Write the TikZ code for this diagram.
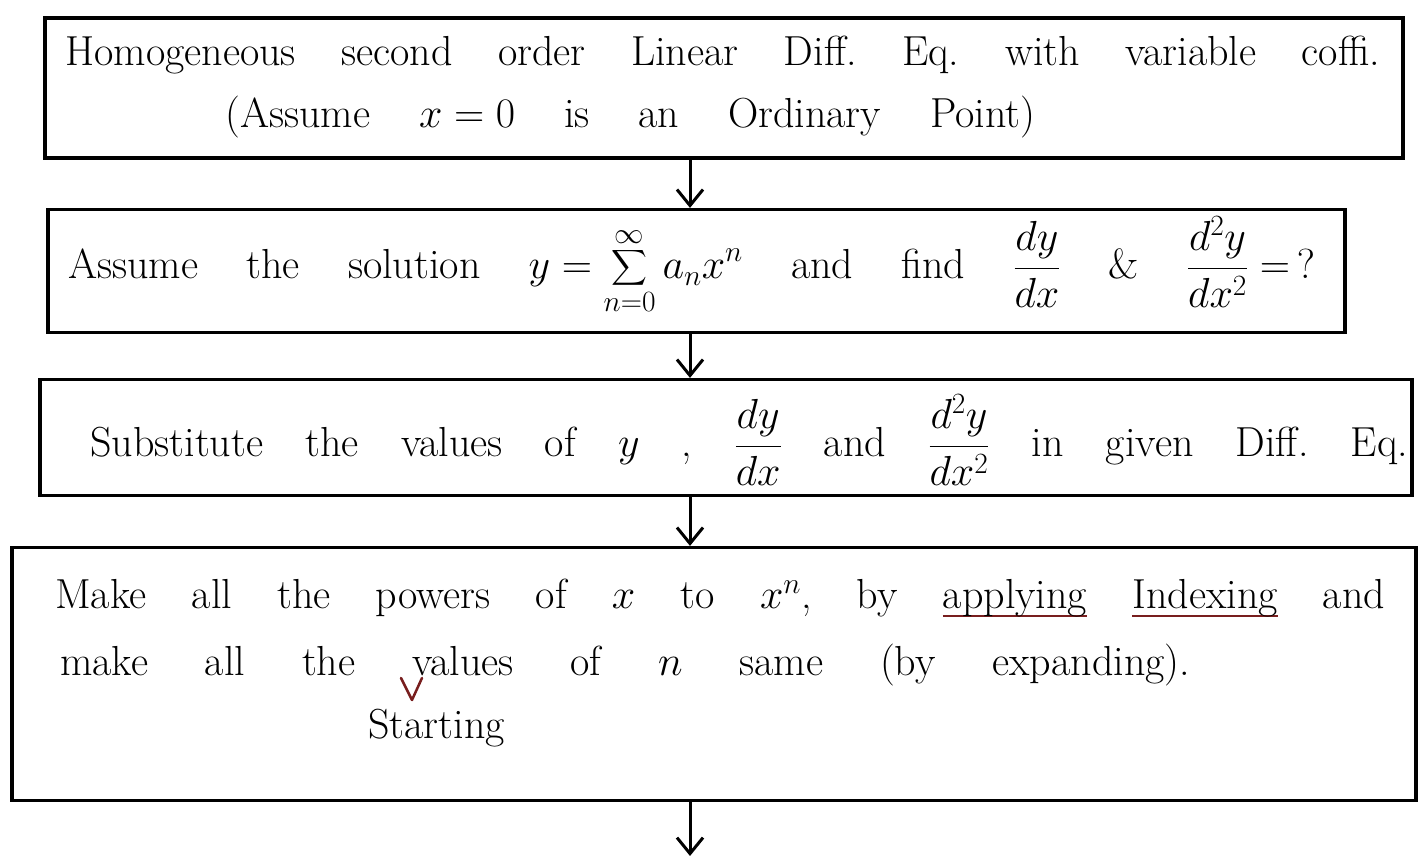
\RequirePackage{fix-cm}
\documentclass[tikz,border=0pt]{standalone}
\usepackage{exscale}
\usepackage{amsmath}
\usetikzlibrary{arrows.meta}
\definecolor{ulred}{RGB}{120,30,30}
\newlength\ulw
\newcommand\redline[1]{\settowidth\ulw{#1}\rlap{\color{ulred}\rule[-9pt]{\ulw}{2.2pt}}#1}
\frenchspacing
\begin{document}
\begin{tikzpicture}[x=1pt,y=-1pt,
  box/.style={draw=black,line width=3.2pt,inner sep=0pt,fill=none},
  txt/.style={anchor=west,inner sep=0pt,font=\fontsize{42}{48}\selectfont},
  arr/.style={line width=3pt,-{Straight Barb[length=16pt,width=26pt,line width=3pt]}}]
\fill[white] (0,0) rectangle (1421,856);
\useasboundingbox (0,0) rectangle (1421,856);
% boxes
\node[box,minimum width=1358pt,minimum height=140pt] (b1) at (724,88) {};
\node[box,minimum width=1297pt,minimum height=123pt] (b2) at (696.5,271) {};
\node[box,minimum width=1372pt,minimum height=116pt] (b3) at (726,437.5) {};
\node[box,minimum width=1404pt,minimum height=253pt] (b4) at (714,674) {};
% texts
\node[txt] (t1a) at (65,55) {\makebox[1315pt][s]{Homogeneous second order Linear Diff. Eq. with variable coffi.}};
\node[txt] (t1b) at (225,117) {\makebox[810pt][s]{(Assume ${x=0}$ is an Ordinary Point)}};
\node[txt] (t2) at (68,265) {\makebox[1247pt][s]{Assume the solution ${y=\displaystyle\sum_{n=0}^{\infty}a_n x^n}$ and find ${\dfrac{dy}{dx}}$ \& ${\dfrac{d^2y}{dx^2}=\,?}$}};
\node[txt] (t3) at (90,440) {\makebox[1318pt][s]{Substitute the values of $y$ , ${\dfrac{dy}{dx}}$ and ${\dfrac{d^2y}{dx^2}}$ in given Diff. Eq.}};
\node[txt] (t4a) at (55,598) {\makebox[1330pt][s]{Make all the powers of $x$ to ${x^n}$, by \redline{applying} \redline{Indexing} and}};
\node[txt] (t4b) at (60,665) {\makebox[1130pt][s]{make all the values of $n$ same (by expanding).}};
\node[txt] (t4c) at (368,728) {Starting};
\draw[ulred,line width=2.5pt,line cap=round,line join=round] (401,678) -- (412,700) -- (422,678);
% arrows
\coordinate (ax) at (690,0);
\coordinate (end) at (690,856);
\draw[arr] (b1.south -| ax) -- (b2.north -| ax);
\draw[arr] (b2.south -| ax) -- (b3.north -| ax);
\draw[arr] (b3.south -| ax) -- (b4.north -| ax);
\draw[arr] (b4.south -| ax) -- (end);
\end{tikzpicture}
\end{document}
